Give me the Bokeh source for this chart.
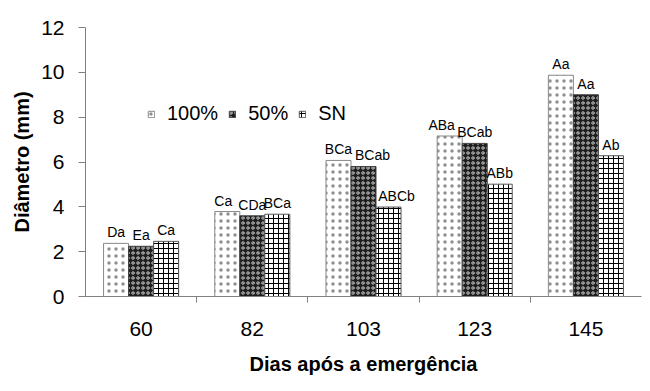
from bokeh.plotting import figure
from bokeh.models import ColumnDataSource, FixedTicker, Legend, LegendItem, Range1d
from bokeh.core.properties import value
from bokeh.embed import file_html
from bokeh.resources import INLINE

days = ["60", "82", "103", "123", "145"]
series = ["100%", "50%", "SN"]
v100 = [2.37, 3.79, 6.07, 7.16, 9.87]
v50 = [2.24, 3.60, 5.80, 6.83, 9.00]
vsn = [2.46, 3.67, 3.99, 5.01, 6.28]
lab100 = ["Da", "Ca", "BCa", "ABa", "Aa"]
lab50 = ["Ea", "CDa", "BCab", "BCab", "Aa"]
labsn = ["Ca", "BCa", "ABCb", "ABb", "Ab"]
yticks = [0, 2, 4, 6, 8, 10, 12]

# label nudges (pixels), styling only
dx100 = [0, -4, 0, -8, 0]
dx50 = [0, 0, 9, 0, 0]
dxsn = [0, 0, 8, 0, 0]

FONT = "Liberation Sans"
p = figure(width=648, height=383, output_backend="svg", toolbar_location=None,
           x_range=Range1d(0, len(days)), y_range=Range1d(0, 12),
           min_border_left=85, min_border_right=7, min_border_top=27, min_border_bottom=87)
p.outline_line_color = None
p.grid.visible = False

centers = [i + 0.5 for i in range(len(days))]
bw = 0.225
offs = [-bw, 0.0, bw]
vals = [v100, v50, vsn]
labs = [lab100, lab50, labsn]
dxs = [dx100, dx50, dxsn]
styles = [
    dict(fill_color="white", hatch_pattern="dot", hatch_color="#444444", hatch_alpha=0.6,
         hatch_scale=7, line_color="#888888"),
    dict(fill_color="#1e1e1e", hatch_pattern="ring", hatch_color="#c8c8c8", hatch_scale=5, hatch_weight=1, line_color="#444444"),
    dict(fill_color="white", hatch_pattern="cross", hatch_color="black", hatch_scale=5, hatch_weight=1, line_color="#555555"),
]
renderers = []
for k in range(3):
    src = ColumnDataSource(dict(x=[c + offs[k] for c in centers], top=vals[k], lab=labs[k], dx=dxs[k]))
    r = p.vbar(x="x", top="top", width=bw, bottom=0, source=src, line_width=1, **styles[k])
    renderers.append(r)
    p.text(x="x", y="top", text="lab", source=src, text_align="center", text_baseline="alphabetic",
           x_offset="dx", y_offset=-11, text_font_size="14px", text_font=value(FONT), text_color="black")

p.xaxis.ticker = FixedTicker(ticks=centers, minor_ticks=[1, 2, 3, 4])
p.xaxis.major_label_overrides = {c: d for c, d in zip(centers, days)}
p.xaxis.major_tick_out = 0
p.xaxis.major_tick_in = 0
p.xaxis.minor_tick_out = 6
p.xaxis.minor_tick_in = 0
p.xaxis.minor_tick_line_color = "#808080"
p.xaxis.axis_line_color = "#808080"
p.xaxis.major_label_standoff = 19
p.xaxis.axis_label = "Dias após a emergência"
p.xaxis.axis_label_standoff = 14

p.yaxis.ticker = FixedTicker(ticks=yticks)
p.yaxis.minor_tick_line_color = None
p.yaxis.major_tick_out = 7
p.yaxis.major_tick_in = 0
p.yaxis.major_tick_line_color = "#808080"
p.yaxis.axis_line_color = "#808080"
p.yaxis.major_label_standoff = 14
p.yaxis.axis_label = "Diâmetro (mm)"
p.yaxis.axis_label_standoff = 5

for ax in (p.xaxis, p.yaxis):
    ax.major_label_text_font = FONT
    ax.major_label_text_font_size = "21px"
    ax.major_label_text_color = "black"
    ax.axis_label_text_font = FONT
    ax.axis_label_text_font_size = "20px"
    ax.axis_label_text_font_style = "bold"
    ax.axis_label_text_color = "black"

legend = Legend(items=[LegendItem(label=s, renderers=[r]) for s, r in zip(series, renderers)],
                orientation="horizontal", location=(62, 171),
                glyph_width=8, glyph_height=8, label_standoff=12, spacing=10, padding=4,
                label_text_font=FONT, label_text_font_size="20px", label_text_color="black",
                background_fill_alpha=0, border_line_color=None)
p.add_layout(legend)

open("out.html", "w").write(file_html(p, INLINE))
